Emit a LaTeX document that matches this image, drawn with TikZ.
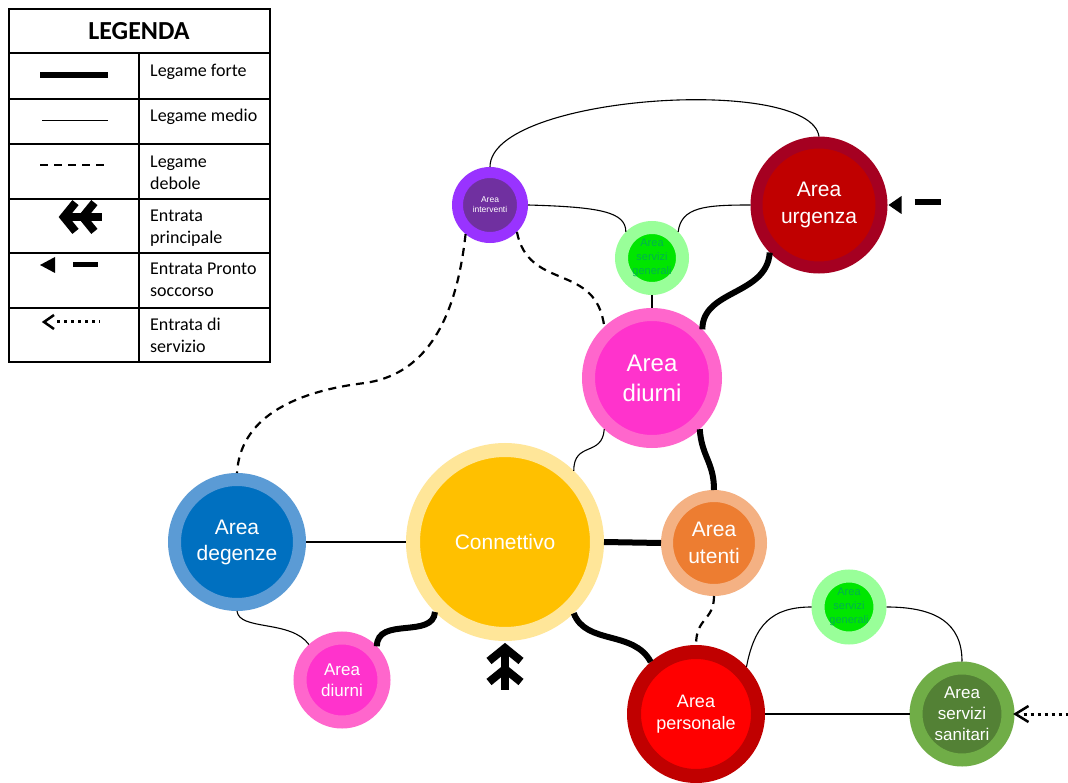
\documentclass[tikz,border=0pt]{standalone}
\usepackage{fontspec}
\setsansfont{Liberation Sans}
\newfontfamily\legfont{Carlito}
\usepackage{tikz}
\usetikzlibrary{calc}

\definecolor{intRing}{HTML}{9933FF}
\definecolor{intCore}{HTML}{7030A0}
\definecolor{sgRing}{HTML}{99FF99}
\definecolor{sgCore}{HTML}{00E600}
\definecolor{sgText}{HTML}{00B050}
\definecolor{urgRing}{HTML}{A50021}
\definecolor{urgCore}{HTML}{C00000}
\definecolor{diuRing}{HTML}{FF66CC}
\definecolor{diuCore}{HTML}{FF33CC}
\definecolor{conRing}{HTML}{FFE699}
\definecolor{conCore}{HTML}{FFC000}
\definecolor{uteRing}{HTML}{F4B183}
\definecolor{uteCore}{HTML}{ED7D31}
\definecolor{degRing}{HTML}{5B9BD5}
\definecolor{degCore}{HTML}{0070C0}
\definecolor{perRing}{HTML}{C00000}
\definecolor{perCore}{HTML}{FF0000}
\definecolor{sanRing}{HTML}{70AD47}
\definecolor{sanCore}{HTML}{538135}

\newcommand{\fs}[2]{\fontsize{#1}{#2}\selectfont}
\tikzstyle{area} = [circle, inner sep=0pt, align=center, text=white]
\tikzstyle{forte} = [line width=6pt]
\tikzstyle{medio} = [line width=1.1pt]
\tikzstyle{debole} = [line width=2.2pt, dash pattern=on 8pt off 6pt]
\tikzstyle{legtext} = [anchor=west, inner sep=0pt, align=left, font=\legfont\fs{18}{22}]
\tikzset{principale/.pic={
	\draw[line width=8pt] (-16,-5) -- (0,-18) -- (16,-5);
	\draw[line width=8pt] (-16,16) -- (0,3) -- (16,16);
	\draw[line width=8pt] (0,-16) -- (0,24);
}}

\begin{document}
\begin{tikzpicture}[x=1pt, y=-1pt]
	\fill[white] (0,0) rectangle (1068,783);
	\useasboundingbox (0,0) rectangle (1068,783);

	% legenda
	\draw[line width=2pt] (9,9) rectangle (270,362);
	\foreach \r in {53,99,144,199,253,308}
		\draw[line width=2pt] (9,\r) -- (270,\r);
	\draw[line width=2pt] (139,53) -- (139,362);
	\node (legenda) at (139,31) {\legfont\bfseries\fs{26}{30}LEGENDA};
	\draw[line width=6pt] (40,75) -- (108,75);
	\draw[line width=1pt] (42,121) -- (108,121);
	\draw[line width=2pt, dash pattern=on 8pt off 6pt] (40,165) -- (108,165);
	\pic[rotate=90, scale=0.9] at (80,217) {principale};
	\fill (40,265) -- (55,257) -- (55,273) -- cycle;
	\draw[line width=5.5pt] (73,264.5) -- (98,264.5);
	\draw[line width=2.5pt] (54,315) -- (44,322) -- (54,329);
	\draw[line width=3pt, dash pattern=on 3pt off 4pt] (57,322) -- (100,322);
	\node (lforte) [legtext] at (150,72) {Legame forte};
	\node (lmedio) [legtext] at (150,117) {Legame medio};
	\node (ldebole) [legtext] at (150,173) {Legame\\debole};
	\node (lprinc) [legtext] at (150,228) {Entrata\\principale};
	\node (lpronto) [legtext] at (150,280) {Entrata Pronto\\soccorso};
	\node (lserv) [legtext] at (150,335) {Entrata di\\servizio};

	% aree
	\node (interventi) [area, minimum size=65pt, line width=11pt, draw=intRing, fill=intCore, font=\sffamily\fs{8.5}{10}] at (490,205) {Area\\interventi};
	\node (sgA) [area, minimum size=61pt, line width=13pt, draw=sgRing, fill=sgCore, text=sgText, font=\sffamily\fs{11}{14}] at (652,258) {Area\\servizi\\generali};
	\node (urgenza) [area, minimum size=125pt, line width=12pt, draw=urgRing, fill=urgCore, font=\sffamily\fs{21}{27}] at (819,205) {Area\\urgenza};
	\node (diurni) [area, minimum size=127pt, line width=13pt, draw=diuRing, fill=diuCore, font=\sffamily\fs{24}{30}] at (652,378) {Area\\diurni};
	\node (conn) [area, minimum size=184pt, line width=14pt, draw=conRing, fill=conCore, font=\sffamily\fs{21}{27}] at (505,542) {Connettivo};
	\node (utenti) [area, minimum size=94pt, line width=12pt, draw=uteRing, fill=uteCore, font=\sffamily\fs{21}{27}] at (714,543) {Area\\utenti};
	\node (degenze) [area, minimum size=125pt, line width=13pt, draw=degRing, fill=degCore, font=\sffamily\fs{21}{26}] at (237,542) {Area\\degenze};
	\node (diurniB) [area, minimum size=84pt, line width=13pt, draw=diuRing, fill=diuCore, font=\sffamily\fs{17}{21}] at (342,680) {Area\\diurni};
	\node (personale) [area, minimum size=124pt, line width=14pt, draw=perRing, fill=perCore, font=\sffamily\fs{18}{22}] at (696,714) {Area\\personale};
	\node (sgB) [area, minimum size=62pt, line width=13pt, draw=sgRing, fill=sgCore, text=sgText, font=\sffamily\fs{11}{14}] at (849,607) {Area\\servizi\\generali};
	\node (sanitari) [area, minimum size=92pt, line width=13pt, draw=sanRing, fill=sanCore, font=\sffamily\fs{17}{21}] at (962,714) {Area\\servizi\\sanitari};

	% legami forti
	\draw[forte] (urgenza.224) .. controls +(-3,43) and +(0,-40) .. (diurni.44);
	\draw[forte] (diurni.313) .. controls +(2,28) and +(0,-28) .. (utenti.north);
	\draw[forte] (conn.east) -- (utenti.west);
	\draw[forte] (conn.225) .. controls +(-2,27) and +(0,-30) .. (diurniB.44);
	\draw[forte] (conn.314) .. controls +(12,32) and +(-17,-32) .. (personale.131);

	% legami medi
	\draw[medio] (interventi.north) .. controls +(0,-72) and +(-9,-62) .. (urgenza.north);
	\draw[medio] (interventi.east) .. controls +(72,2) and +(0,-20) .. (sgA.135);
	\draw[medio] (sgA.45) .. controls +(3,-25) and +(-45,0) .. (urgenza.west);
	\draw[medio] (sgA) -- (diurni);
	\draw[medio] (diurni.227) .. controls +(-2,28) and +(0,-30) .. (conn.46);
	\draw[medio] (degenze.east) -- (conn.west);
	\draw[medio] (degenze.south) .. controls +(2,20) and +(-18,-25) .. (diurniB.133);
	\draw[medio] (personale.43) .. controls +(8,-42) and +(-40,0) .. (sgB.west);
	\draw[medio] (sgB.east) .. controls +(50,0) and +(0,-38) .. (sanitari.north);
	\draw[medio] (personale.east) -- (sanitari.west);

	% legami deboli
	\draw[debole] (interventi.230) .. controls (455,330) and (420,375) .. (365,383) .. controls (290,392) and (240,420) .. (degenze.north);
	\draw[debole] (interventi.315) .. controls +(12,60) and +(-8,-65) .. (diurni.133);
	\draw[debole] (utenti.south) .. controls +(0,25) and +(0,-28) .. (personale.north);

	% entrate
	\pic at ([yshift=-25pt]conn.south) {principale};
	\fill ([xshift=1pt]urgenza.east) -- ++(13,-9) -- ++(0,18) -- cycle;
	\draw[line width=6pt] ([shift={(27,-3)}]urgenza.east) -- ++(26,0);
	\draw[line width=2.5pt] ([shift={(14,-8)}]sanitari.east) -- ([xshift=1pt]sanitari.east) -- ([shift={(14,8)}]sanitari.east);
	\draw[line width=3pt, dash pattern=on 3pt off 4pt] ([xshift=9pt]sanitari.east) -- ++(45,0);
\end{tikzpicture}
\end{document}
